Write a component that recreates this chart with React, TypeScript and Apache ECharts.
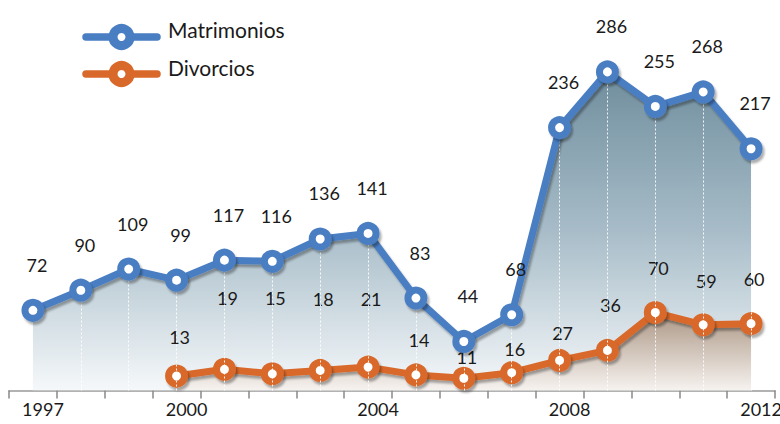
import React, { useEffect, useRef } from "react";
import * as echarts from "echarts";

const years = ["1997", "1998", "1999", "2000", "2001", "2002", "2003", "2004", "2005", "2006", "2007", "2008", "2009", "2010", "2011", "2012"];
const matrimonios = [72, 90, 109, 99, 117, 116, 136, 141, 83, 44, 68, 236, 286, 255, 268, 217];
const divorcios: (number | null)[] = [null, null, null, 13, 19, 15, 18, 21, 14, 11, 16, 27, 36, 70, 59, 60];
const shownYearLabels = ["1997", "2000", "2004", "2008", "2012"];
const seriesNames = ["Matrimonios", "Divorcios"];

// label lift (center of point to center of label), style only
const divLabelLift = [0, 0, 0, 37, 69, 73, 69, 66, 32, 19, 21, 25, 43, 42, 41, 42];

const BLUE = "#4a7ec3";
const ORANGE = "#d9692a";
const TEXT = "#1a1a1a";
const FONT = "Lato";

export default function App() {
  const ref = useRef<HTMLDivElement>(null);
  useEffect(() => {
    document.body.style.margin = "0";
    const chart = echarts.init(ref.current!, null, { renderer: "svg" });
    const shadow = {
      shadowColor: "rgba(0,0,0,0.32)",
      shadowBlur: 2,
      shadowOffsetX: 2,
      shadowOffsetY: 3,
    };
    const blueArea = new echarts.graphic.LinearGradient(
      0, 70, 0, 390,
      [
        { offset: 0, color: "#6f8d9d" },
        { offset: 0.5, color: "#a7bcc8" },
        { offset: 1, color: "#f5f8fa" },
      ],
      true
    );
    const orangeArea = new echarts.graphic.LinearGradient(
      0, 312, 0, 390,
      [
        { offset: 0, color: "#ab9684" },
        { offset: 1, color: "#f6f2ef" },
      ],
      true
    );
    const option: any = {
      animation: false,
      grid: { left: 9, right: 5, top: 56.3, bottom: 33.5, containLabel: false, outerBoundsMode: "none" },
      xAxis: {
        type: "category",
        data: years,
        boundaryGap: true,
        axisLine: { lineStyle: { color: "#999", width: 1.5 } },
        axisTick: { show: true, interval: 0, length: 8, lineStyle: { color: "#888", width: 1.5 } },
        axisLabel: {
          interval: (_i: number, v: string) => shownYearLabels.includes(v),
          color: TEXT,
          fontFamily: FONT,
          fontSize: 18,
          margin: 9,
          padding: [0, 0, 0, 20],
        },
        splitLine: { show: false },
      },
      yAxis: {
        type: "value",
        min: 0,
        max: 300,
        show: false,
        splitLine: { show: false },
      },
      graphic: [
        { type: "line", shape: { x1: 86, y1: 37, x2: 157, y2: 37 }, style: { stroke: BLUE, lineWidth: 7.5, lineCap: "round" } },
        { type: "circle", shape: { cx: 121.5, cy: 37, r: 8.5 }, style: { fill: "#fff", stroke: BLUE, lineWidth: 9 } },
        { type: "text", x: 168, y: 29, style: { text: seriesNames[0], fontSize: 21, fontFamily: FONT, fill: TEXT, verticalAlign: "middle" } },
        { type: "line", shape: { x1: 86, y1: 74, x2: 157, y2: 74 }, style: { stroke: ORANGE, lineWidth: 7.5, lineCap: "round" } },
        { type: "circle", shape: { cx: 121.5, cy: 74, r: 8.5 }, style: { fill: "#fff", stroke: ORANGE, lineWidth: 9 } },
        { type: "text", x: 168, y: 67, style: { text: seriesNames[1], fontSize: 21, fontFamily: FONT, fill: TEXT, verticalAlign: "middle" } },
      ],
      series: [
        {
          type: "line",
          name: "areaM",
          data: matrimonios,
          z: 1,
          symbol: "none",
          silent: true,
          lineStyle: { width: 0, opacity: 0 },
          areaStyle: { color: blueArea, opacity: 1 },
        },
        {
          type: "line",
          name: "areaD",
          data: divorcios,
          z: 2,
          symbol: "none",
          silent: true,
          lineStyle: { width: 0, opacity: 0 },
          areaStyle: { color: orangeArea, opacity: 1 },
        },
        {
          type: "line",
          name: "drops",
          data: matrimonios,
          z: 3,
          symbol: "none",
          silent: true,
          lineStyle: { width: 0, opacity: 0 },
          markLine: {
            silent: true,
            symbol: "none",
            label: { show: false },
            lineStyle: { color: "rgba(255,255,255,0.9)", width: 1, type: [2, 2] },
            data: matrimonios.slice(1).map((v, i) => [
              { coord: [years[i + 1], 0] },
              { coord: [years[i + 1], v] },
            ]),
          },
        },
        {
          type: "line",
          name: seriesNames[1],
          data: divorcios.map((v, i) =>
            v == null ? null : { value: v, label: { distance: divLabelLift[i] - 18 } }
          ),
          z: 4,
          symbol: "circle",
          symbolSize: 16,
          lineStyle: { color: ORANGE, width: 7, ...shadow },
          itemStyle: { color: "#fff", borderColor: ORANGE, borderWidth: 7, ...shadow },
          label: {
            show: true,
            position: "top",
            color: TEXT,
            fontFamily: FONT,
            fontSize: 18,
            offset: [3, 0],
          },
        },
        {
          type: "line",
          name: seriesNames[0],
          data: matrimonios,
          z: 5,
          symbol: "circle",
          symbolSize: 16,
          lineStyle: { color: BLUE, width: 7, ...shadow },
          itemStyle: { color: "#fff", borderColor: BLUE, borderWidth: 7, ...shadow },
          label: {
            show: true,
            position: "top",
            distance: 25,
            color: TEXT,
            fontFamily: FONT,
            fontSize: 18,
            offset: [4, 0],
          },
        },
      ],
    };
    chart.setOption(option);
    return () => chart.dispose();
  }, []);
  return (
    <div
      ref={ref}
      style={{ width: 780, height: 424, position: "absolute", left: 0, top: 0 }}
    />
  );
}
